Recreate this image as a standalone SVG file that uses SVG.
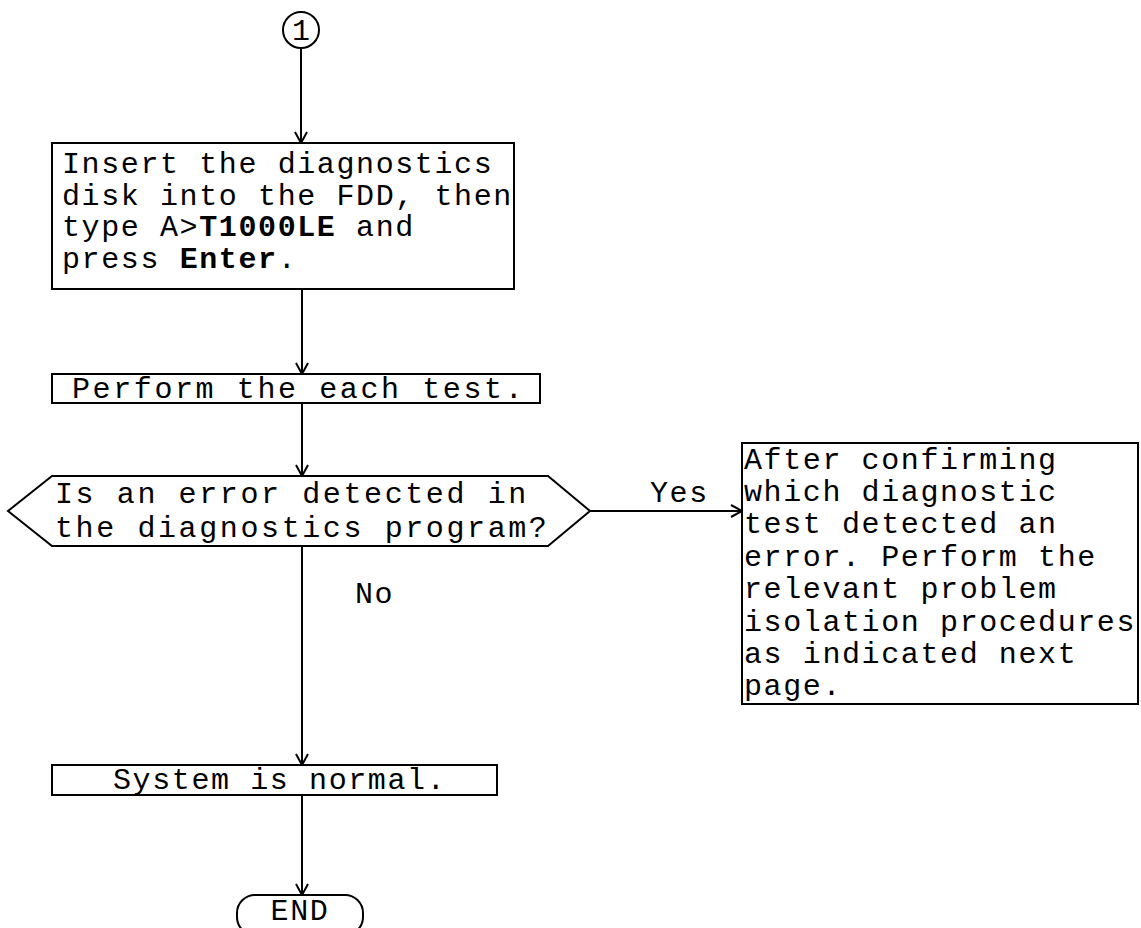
<svg xmlns="http://www.w3.org/2000/svg" width="1141" height="928" viewBox="0 0 1141 928">
<defs>
<marker id="arr" markerWidth="14" markerHeight="14" refX="12" refY="7" orient="auto" markerUnits="userSpaceOnUse" viewBox="0 0 14 14">
<polyline points="1,1 12,7 1,13" fill="none" stroke="#000" stroke-width="2"/>
</marker>
</defs>
<style>
.shape{fill:#fff;stroke:#000;stroke-width:2}
.t{font-family:"Liberation Mono","Courier New",monospace;font-size:30px;letter-spacing:1.6px;fill:#000}
.w{letter-spacing:2.6px}
.b{font-weight:bold}
.c{stroke:#000;stroke-width:2;fill:none}
</style>
<rect width="1141" height="928" fill="#fff"/>
<g id="connectors">
<line class="c" x1="301" y1="48" x2="301" y2="143" marker-end="url(#arr)"/>
<line class="c" x1="302" y1="289" x2="302" y2="374" marker-end="url(#arr)"/>
<line class="c" x1="302" y1="403" x2="302" y2="476" marker-end="url(#arr)"/>
<line class="c" x1="590" y1="511" x2="742" y2="511" marker-end="url(#arr)"/>
<line class="c" x1="302" y1="546" x2="302" y2="765" marker-end="url(#arr)"/>
<line class="c" x1="302" y1="795" x2="302" y2="895" marker-end="url(#arr)"/>
<text class="t" x="650" y="502">Yes</text>
<text class="t" x="355" y="603">No</text>
</g>
<g id="start">
<circle class="shape" cx="301" cy="30" r="18"/>
<text class="t" x="301" y="40" text-anchor="middle" font-size="28" style="letter-spacing:0">1</text>
</g>
<g id="insert">
<rect class="shape" x="52" y="143" width="462" height="146"/>
<text class="t" x="62" y="173">Insert the diagnostics</text>
<text class="t" x="62" y="205">disk into the FDD, then</text>
<text class="t" x="62" y="236">type A&gt;<tspan class="b">T1000LE</tspan> and</text>
<text class="t" x="62" y="268">press <tspan class="b">Enter</tspan>.</text>
</g>
<g id="perform">
<rect class="shape" x="52" y="374" width="488" height="29"/>
<text class="t w" x="72" y="398">Perform the each test.</text>
</g>
<g id="decision">
<polygon class="shape" points="52,476 548,476 590,511 548,546 52,546 8,511"/>
<text class="t w" x="55" y="503">Is an error detected in</text>
<text class="t w" x="55" y="537">the diagnostics program?</text>
</g>
<g id="isolate">
<rect class="shape" x="742" y="443" width="396" height="261"/>
<text class="t" x="744" y="469">After confirming</text>
<text class="t" x="744" y="501">which diagnostic</text>
<text class="t" x="744" y="533">test detected an</text>
<text class="t" x="744" y="566">error. Perform the</text>
<text class="t" x="744" y="598">relevant problem</text>
<text class="t" x="744" y="631">isolation procedures</text>
<text class="t" x="744" y="663">as indicated next</text>
<text class="t" x="744" y="695">page.</text>
</g>
<g id="normal">
<rect class="shape" x="52" y="765" width="445" height="30"/>
<text class="t" x="113" y="789">System is normal.</text>
</g>
<g id="end">
<rect class="shape" x="237" y="895" width="126" height="40" rx="18" ry="18"/>
<text class="t" x="300" y="920" text-anchor="middle">END</text>
</g>
</svg>
